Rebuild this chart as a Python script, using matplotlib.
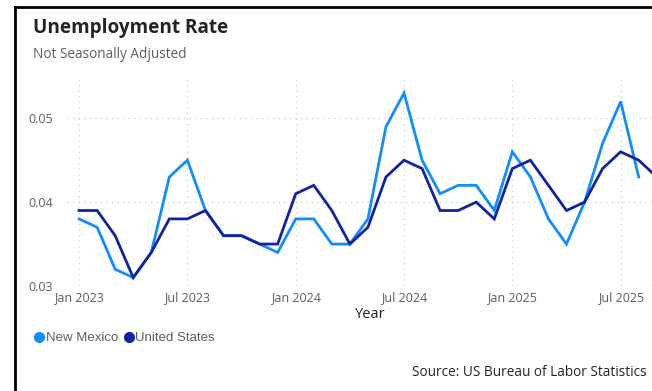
import matplotlib.pyplot as plt
from matplotlib.lines import Line2D

# monthly values, Jan 2023 .. Sep 2025
months = list(range(33))
new_mexico = [0.038, 0.037, 0.032, 0.031, 0.034, 0.043, 0.045, 0.039, 0.036, 0.036, 0.035, 0.034,
              0.038, 0.038, 0.035, 0.035, 0.038, 0.049, 0.053, 0.045, 0.041, 0.042, 0.042, 0.039,
              0.046, 0.043, 0.038, 0.035, 0.040, 0.047, 0.052, 0.043]
united_states = [0.039, 0.039, 0.036, 0.031, 0.034, 0.038, 0.038, 0.039, 0.036, 0.036, 0.035, 0.035,
                 0.041, 0.042, 0.039, 0.035, 0.037, 0.043, 0.045, 0.044, 0.039, 0.039, 0.040, 0.038,
                 0.044, 0.045, 0.042, 0.039, 0.040, 0.044, 0.046, 0.045, 0.043]
tick_pos = [0, 6, 12, 18, 24, 30]
tick_labels = ["Jan 2023", "Jul 2023", "Jan 2024", "Jul 2024", "Jan 2025", "Jul 2025"]
y_ticks = [0.03, 0.04, 0.05]

nm_color = "#118DFF"
us_color = "#12239E"
grey = "#605E5C"

fig = plt.figure(figsize=(6.52, 3.91), dpi=100)
ax = fig.add_axes([67 / 652, 1 - 286 / 391, 606 / 652, 208 / 391])

ax.plot(months[:len(new_mexico)], new_mexico, color=nm_color, lw=2.0, solid_joinstyle="miter")
ax.plot(months, united_states, color=us_color, lw=2.0, solid_joinstyle="miter")

ax.set_xlim(-0.67, 32.9)
ax.set_ylim(0.03, 0.0548)
ax.set_xticks(tick_pos)
ax.set_xticklabels(tick_labels)
ax.set_yticks(y_ticks)
ax.set_yticklabels([f"{v:.2f}" for v in y_ticks])
ax.tick_params(length=0, colors=grey, labelsize=9)
ax.tick_params(axis="x", pad=4)
ax.tick_params(axis="y", pad=10)
for lab in ax.get_xticklabels() + ax.get_yticklabels():
    lab.set_family("Open Sans")

ax.grid(True, color="#D5D5D5", linestyle=(0, (1, 3)), linewidth=1)
for s in ax.spines.values():
    s.set_visible(False)

ax.set_xlabel("Year", family="Open Sans", fontsize=10.5, color="#252423", labelpad=2)

fig.text(33 / 652, 1 - 28 / 391, "Unemployment Rate", family="Open Sans", weight="bold",
         fontsize=13.7, color="#252423", va="center")
fig.text(33 / 652, 1 - 54 / 391, "Not Seasonally Adjusted", family="Open Sans",
         fontsize=9.8, color=grey, va="center")
fig.text(647 / 652, 1 - 372 / 391, "Source: US Bureau of Labor Statistics", family="Open Sans",
         fontsize=9.8, color="#252423", ha="right", va="center")

handles = [Line2D([], [], marker="o", ls="", color=nm_color, markersize=7),
           Line2D([], [], marker="o", ls="", color=us_color, markersize=7)]
fig.legend(handles, ["New Mexico", "United States"], loc="center left",
           bbox_to_anchor=(21 / 652, 1 - 338 / 391), ncol=2, frameon=False,
           handletextpad=0.0, columnspacing=0.3, handlelength=1.0,
           prop={"family": "Liberation Sans", "size": 9.5}, labelcolor=grey)

# card border (left and top edges visible)
fig.add_artist(Line2D([15 / 652, 15 / 652], [0, 1 - 7 / 391], color="black", lw=2))
fig.add_artist(Line2D([15 / 652, 1], [1 - 7 / 391, 1 - 7 / 391], color="black", lw=2))

fig.savefig("out.png", dpi=100)
